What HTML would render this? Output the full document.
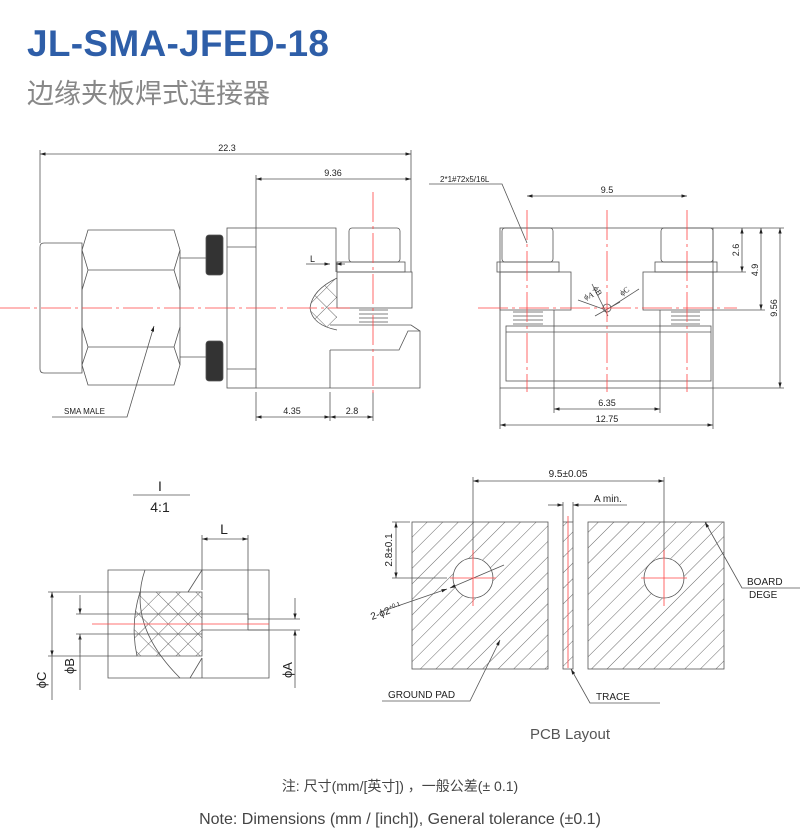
<!DOCTYPE html>
<html><head><meta charset="utf-8"><style>
html,body{margin:0;padding:0;background:#fff;width:800px;height:835px;overflow:hidden}
svg{display:block}
</style></head><body>
<svg width="800" height="835" viewBox="0 0 800 835" xmlns="http://www.w3.org/2000/svg" font-family="Liberation Sans, sans-serif">
<defs>
<pattern id="h" patternUnits="userSpaceOnUse" width="11" height="11" patternTransform="rotate(45)">
<line x1="0" y1="0" x2="0" y2="11" stroke="#444" stroke-width="0.8"/></pattern>
<pattern id="x" patternUnits="userSpaceOnUse" width="14" height="14" patternTransform="rotate(45)">
<line x1="0" y1="0" x2="0" y2="14" stroke="#444" stroke-width="0.8"/><line x1="0" y1="0" x2="14" y2="0" stroke="#444" stroke-width="0.8"/></pattern>
<marker id="a" viewBox="0 0 10 10" refX="10" refY="5" markerWidth="7" markerHeight="7" orient="auto-start-reverse"><path d="M0,2 L10,5 L0,8z" fill="#222"/></marker>
</defs>
<text x="27" y="56" font-size="37" fill="#2e5ea8" font-weight="bold" style="letter-spacing:0.3px">JL-SMA-JFED-18</text>
<text x="27" y="103" font-size="27" fill="#888" font-family="Liberation Sans, Noto Sans CJK SC, sans-serif">边缘夹板焊式连接器</text>

<g stroke="#555" stroke-width="0.8" fill="none">
<!-- Drawing 1 -->
<line x1="40" y1="154" x2="411" y2="154" marker-start="url(#a)" marker-end="url(#a)"/>
<line x1="40" y1="150" x2="40" y2="243"/>
<line x1="411" y1="150" x2="411" y2="272"/>
<line x1="256" y1="179" x2="411" y2="179" marker-start="url(#a)" marker-end="url(#a)"/>
<line x1="256" y1="175" x2="256" y2="228"/>
<path d="M44,243 H82 V373 H44 Q40,373 40,369 V247 Q40,243 44,243Z"/>
<path d="M88,230 H174 L180,250 V365 L174,385 H88 L82,365 V250Z"/>
<path d="M88,270 H174 M88,347 H174 M82,250 L88,270 L82,290 M180,250 L174,270 L180,290 M82,327 L88,347 L82,365 M180,327 L174,347 L180,365"/>
<line x1="180" y1="258" x2="206" y2="258"/><line x1="180" y1="357" x2="206" y2="357"/>
<rect x="206" y="235" width="17" height="40" rx="3" fill="#333"/>
<rect x="206" y="341" width="17" height="40" rx="3" fill="#333"/>
<rect x="227" y="228" width="29" height="160"/>
<line x1="227" y1="247" x2="256" y2="247"/><line x1="227" y1="369" x2="256" y2="369"/>
<path d="M256,228 H336 V272 M256,388 H330 V350 M330,388 H420 V331 L408,331 L399,350 H330"/>
<path d="M330,325 H411 L420,331"/>
<rect x="349" y="228" width="51" height="34" rx="3"/>
<rect x="337" y="262" width="68" height="10"/>
<rect x="337" y="272" width="75" height="36"/>
<path d="M359,310 h29 M359,314 h29 M359,318 h29 M359,322 h29"/>
<path d="M337,278 Q312,290 310,308 Q312,325 337,330" fill="url(#x)"/>
<line x1="256" y1="392" x2="256" y2="421"/><line x1="330" y1="392" x2="330" y2="421"/><line x1="373" y1="392" x2="373" y2="421"/>
<line x1="256" y1="417" x2="330" y2="417" marker-start="url(#a)" marker-end="url(#a)"/>
<line x1="330" y1="417" x2="373" y2="417" marker-start="url(#a)" marker-end="url(#a)"/>
<line x1="306" y1="264" x2="320" y2="264"/><line x1="320" y1="264" x2="330" y2="264" marker-end="url(#a)"/><line x1="345" y1="264" x2="336" y2="264" marker-end="url(#a)"/>
<path d="M52,417 H127 L154,326" marker-end="url(#a)"/>

<!-- Drawing 2 -->
<path d="M429,184 H502 L527,243" />
<line x1="527" y1="196" x2="687" y2="196" marker-start="url(#a)" marker-end="url(#a)"/>
<rect x="500" y="228" width="213" height="160"/>
<rect x="502" y="228" width="51" height="34" rx="3"/><rect x="497" y="262" width="62" height="10"/><rect x="500" y="272" width="71" height="38"/>
<rect x="661" y="228" width="52" height="34" rx="3"/><rect x="655" y="262" width="62" height="10"/><rect x="643" y="272" width="70" height="38"/>
<path d="M513,312 h30 M513,316 h30 M513,320 h30 M513,324 h30 M671,312 h29 M671,316 h29 M671,320 h29 M671,324 h29"/>
<rect x="506" y="326" width="205" height="55"/><line x1="506" y1="332" x2="711" y2="332"/>
<line x1="713" y1="228" x2="784" y2="228"/><line x1="713" y1="272" x2="746" y2="272"/><line x1="713" y1="310" x2="765" y2="310"/><line x1="713" y1="388" x2="784" y2="388"/>
<line x1="742" y1="228" x2="742" y2="272" marker-start="url(#a)" marker-end="url(#a)"/>
<line x1="761" y1="228" x2="761" y2="310" marker-start="url(#a)" marker-end="url(#a)"/>
<line x1="780" y1="228" x2="780" y2="388" marker-start="url(#a)" marker-end="url(#a)"/>
<line x1="554" y1="310" x2="554" y2="413"/><line x1="660" y1="310" x2="660" y2="413"/>
<line x1="554" y1="409" x2="660" y2="409" marker-start="url(#a)" marker-end="url(#a)"/>
<line x1="500" y1="388" x2="500" y2="429"/><line x1="713" y1="388" x2="713" y2="429"/>
<line x1="500" y1="425" x2="713" y2="425" marker-start="url(#a)" marker-end="url(#a)"/>
<circle cx="607" cy="308" r="4"/>
<path d="M578,300 L603,309 M592,284 L608,316 M639,289 L611,307 M595,316 L620,302"/>

<!-- Drawing 3 -->
<line x1="133" y1="495" x2="190" y2="495"/>
<line x1="202" y1="535" x2="202" y2="570"/><line x1="248" y1="535" x2="248" y2="620"/>
<line x1="202" y1="539" x2="248" y2="539" marker-start="url(#a)" marker-end="url(#a)"/>
<path d="M108,570 H269 V678 H108Z"/>
<path d="M202,570 V590 M202,658 V678 M202,630 H269 M202,614 H248 V630"/>
<path d="M145,570 Q126,624 180,678" fill="none"/>
<path d="M140,592 H202 V656 H137 Q130,624 140,592Z" fill="url(#x)"/>
<path d="M202,570 L188,592 M202,658 L190,678"/>
<line x1="137" y1="614" x2="202" y2="614"/><line x1="137" y1="634" x2="202" y2="634"/>
<line x1="48" y1="592" x2="140" y2="592"/><line x1="48" y1="656" x2="137" y2="656"/>
<line x1="76" y1="614" x2="137" y2="614"/><line x1="76" y1="634" x2="137" y2="634"/>
<line x1="52" y1="592" x2="52" y2="656" marker-start="url(#a)" marker-end="url(#a)"/>
<line x1="52" y1="656" x2="52" y2="700"/>
<line x1="80" y1="595" x2="80" y2="614" marker-end="url(#a)"/><line x1="80" y1="653" x2="80" y2="634" marker-end="url(#a)"/><line x1="80" y1="634" x2="80" y2="690"/>
<line x1="248" y1="619" x2="300" y2="619"/><line x1="248" y1="630" x2="300" y2="630"/>
<line x1="295" y1="598" x2="295" y2="619" marker-end="url(#a)"/><line x1="295" y1="650" x2="295" y2="630" marker-end="url(#a)"/><line x1="295" y1="650" x2="295" y2="688"/>

<!-- Drawing 4 -->
<line x1="473" y1="481" x2="664" y2="481" marker-start="url(#a)" marker-end="url(#a)"/>
<line x1="473" y1="477" x2="473" y2="558"/><line x1="664" y1="477" x2="664" y2="558"/>
<line x1="548" y1="505" x2="563" y2="505" marker-end="url(#a)"/><line x1="627" y1="505" x2="573" y2="505" marker-end="url(#a)"/>
<line x1="563" y1="502" x2="563" y2="522"/><line x1="573" y1="502" x2="573" y2="522"/>
<rect x="412" y="522" width="136" height="147" fill="url(#h)"/>
<rect x="563" y="522" width="10" height="147" fill="url(#h)"/>
<rect x="588" y="522" width="136" height="147" fill="url(#h)"/>
<circle cx="473" cy="578" r="20" fill="#fff"/><circle cx="664" cy="578" r="20" fill="#fff"/>
<line x1="396" y1="522" x2="396" y2="578" marker-start="url(#a)" marker-end="url(#a)"/>
<line x1="392" y1="522" x2="410" y2="522"/><line x1="392" y1="578" x2="447" y2="578"/>
<path d="M380,612 L447,589" marker-end="url(#a)"/><line x1="450" y1="588" x2="504" y2="565" marker-start="url(#a)"/>
<path d="M810,588 H742 L705,522" marker-end="url(#a)"/>
<path d="M382,701 H470 L500,640" marker-end="url(#a)"/>
<path d="M660,703 H590 L571,669" marker-end="url(#a)"/>
</g>

<g stroke="#f44" stroke-width="0.8" fill="none">
<line x1="0" y1="308" x2="350" y2="308" stroke-dasharray="30,4,3,4"/>
<line x1="373" y1="192" x2="373" y2="395" stroke-dasharray="30,4,3,4"/>
<line x1="478" y1="308" x2="737" y2="308" stroke-dasharray="30,4,3,4"/>
<line x1="527" y1="210" x2="527" y2="392" stroke-dasharray="30,4,3,4"/>
<line x1="607" y1="210" x2="607" y2="392" stroke-dasharray="30,4,3,4"/>
<line x1="687" y1="210" x2="687" y2="392" stroke-dasharray="30,4,3,4"/>
<line x1="92" y1="624" x2="269" y2="624"/>
<line x1="450" y1="578" x2="496" y2="578"/><line x1="473" y1="550" x2="473" y2="606"/>
<line x1="641" y1="578" x2="687" y2="578"/><line x1="664" y1="550" x2="664" y2="606"/>
<line x1="568" y1="516" x2="568" y2="668"/>
</g>

<g fill="#222" font-size="9">
<text x="227" y="151" text-anchor="middle">22.3</text>
<text x="333" y="176" text-anchor="middle">9.36</text>
<text x="292" y="414" text-anchor="middle">4.35</text>
<text x="352" y="414" text-anchor="middle">2.8</text>
<text x="310" y="262">L</text>
<text x="64" y="414" font-size="8">SMA MALE</text>
<text x="440" y="182" font-size="8">2*1#72x5/16L</text>
<text x="607" y="193" text-anchor="middle">9.5</text>
<text x="607" y="406" text-anchor="middle">6.35</text>
<text x="607" y="422" text-anchor="middle">12.75</text>
<text transform="translate(739,250) rotate(-90)" text-anchor="middle">2.6</text>
<text transform="translate(758,270) rotate(-90)" text-anchor="middle">4.9</text>
<text transform="translate(777,308) rotate(-90)" text-anchor="middle">9.56</text>
<text transform="translate(585,300) rotate(-20)" font-size="8" font-family="Liberation Serif, serif">ϕA</text>
<text transform="translate(593,288) rotate(60)" font-size="8" font-family="Liberation Serif, serif">ϕB</text>
<text transform="translate(622,296) rotate(-35)" font-size="8" font-family="Liberation Serif, serif">ϕC</text>
<text x="160" y="491" font-size="14" text-anchor="middle">I</text>
<text x="160" y="512" font-size="14" text-anchor="middle">4:1</text>
<text x="224" y="534" font-size="14" text-anchor="middle">L</text>
<text transform="translate(46,680) rotate(-90)" font-size="13" text-anchor="middle">ϕC</text>
<text transform="translate(74,666) rotate(-90)" font-size="13" text-anchor="middle">ϕB</text>
<text transform="translate(292,670) rotate(-90)" font-size="13" text-anchor="middle">ϕA</text>
<text x="568" y="477" font-size="10" text-anchor="middle">9.5±0.05</text>
<text x="594" y="502" font-size="10">A min.</text>
<text transform="translate(392,550) rotate(-90)" font-size="10" text-anchor="middle">2.8±0.1</text>
<text transform="translate(372,620) rotate(-20)" font-size="10">2-ϕ2<tspan font-size="6" dy="-4">+0.1</tspan></text>
<text x="747" y="585" font-size="10">BOARD</text>
<text x="749" y="598" font-size="10">DEGE</text>
<text x="388" y="698" font-size="10">GROUND PAD</text>
<text x="596" y="700" font-size="10">TRACE</text>
</g>
<text x="570" y="739" font-size="15" fill="#555" text-anchor="middle">PCB Layout</text>
<text x="400" y="791" font-size="14" fill="#444" text-anchor="middle" font-family="Liberation Sans, Noto Sans CJK SC, sans-serif">注: 尺寸(mm/[英寸]) ，一般公差(± 0.1)</text>
<text x="400" y="824" font-size="16" fill="#444" text-anchor="middle">Note: Dimensions (mm / [inch]), General tolerance (±0.1)</text>
</svg>
</body></html>
